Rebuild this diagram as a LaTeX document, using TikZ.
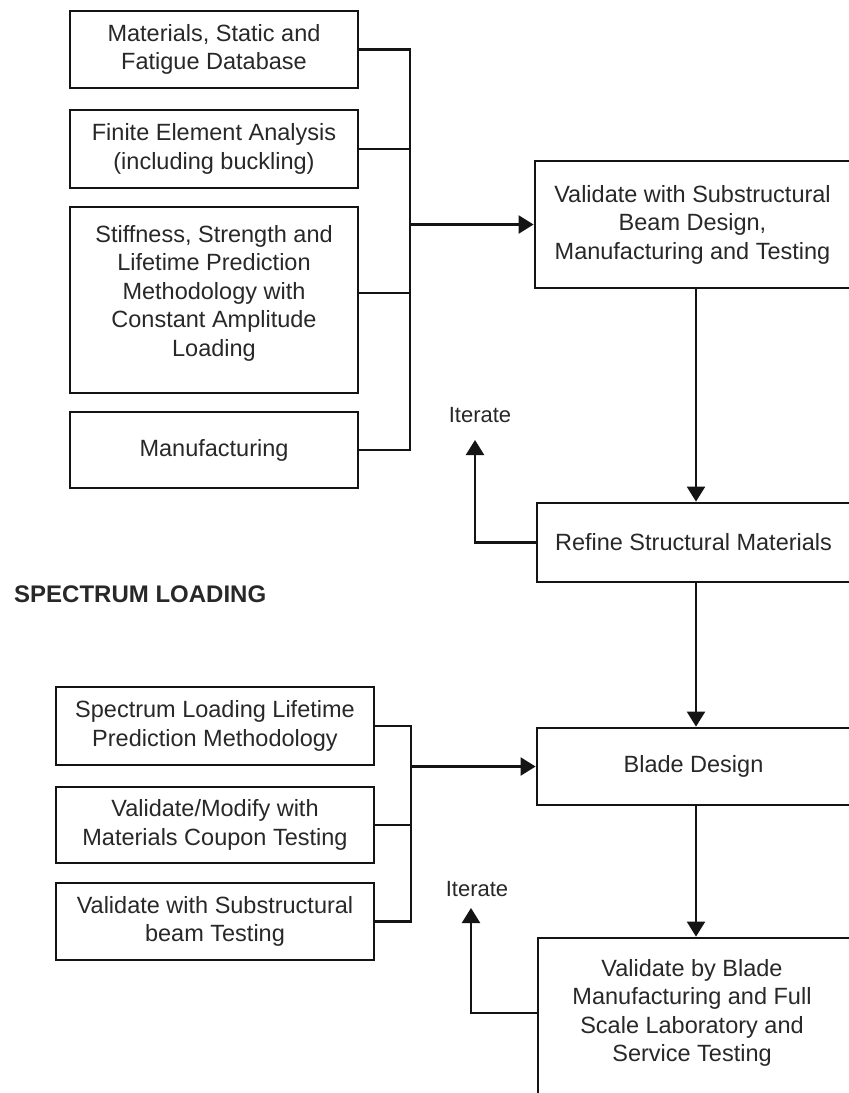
\documentclass[tikz,border=0pt]{standalone}
\usepackage{fontspec}
\setmainfont{Liberation Sans}
\usetikzlibrary{arrows.meta}
\definecolor{ink}{RGB}{20,20,20}
\definecolor{txt}{RGB}{40,40,40}
\tikzset{
  box/.style={draw=ink, line width=2.8pt, rectangle, inner sep=0pt, align=center,
              text=txt, font=\fontsize{23.5}{28.5}\selectfont},
  lbl/.style={inner sep=0pt, align=center, text=txt, font=\fontsize{23.5}{28.5}\selectfont},
  conn/.style={draw=ink, line width=2.3pt},
  arr/.style={conn, -{Triangle[length=15pt,width=18pt]}},
}
\begin{document}
\begin{tikzpicture}[x=1pt,y=-1pt]
\clip (0,0) rectangle (849,1093);
\fill[white] (0,0) rectangle (849,1093);
% left upper boxes
\node[box, minimum width=288pt, minimum height=77pt] (b1) at (214,49.5) {Materials, Static and\\Fatigue Database};
\node[box, minimum width=288pt, minimum height=78pt] (b2) at (214,149) {Finite Element Analysis\\(including buckling)};
\node[box, minimum width=288pt, minimum height=186pt] (b3) at (214,300) {};
\node[lbl] (b3t) at (214,293) {Stiffness, Strength and\\Lifetime Prediction\\Methodology with\\Constant Amplitude\\Loading};
\node[box, minimum width=288pt, minimum height=76pt] (b4) at (214,450) {Manufacturing};
\coordinate (bx) at (410,0);
\coordinate (b3c) at (358,293);
% right column
\node[box, minimum width=315pt, minimum height=127pt] (r1) at (692.5,224.5) {Validate with Substructural\\Beam Design,\\Manufacturing and Testing};
\node[box, minimum width=313pt, minimum height=79pt] (r2) at (693.5,542.5) {Refine Structural Materials};
\node[box, minimum width=313pt, minimum height=77pt] (r3) at (693.5,766.5) {Blade Design};
\node[box, minimum width=312pt, minimum height=170pt] (r4) at (694,1023) {};
\node[lbl] (r4t) at (692,1013) {Validate by Blade\\Manufacturing and Full\\Scale Laboratory and\\Service Testing};
\coordinate (ax) at (696,0);
% iterate labels
\node[lbl, font=\fontsize{22}{26}\selectfont] (it1) at (480,415) {Iterate};
\coordinate (t1) at (475,440);
\node[lbl, font=\fontsize{22}{26}\selectfont] (it2) at (477,889) {Iterate};
\coordinate (t2) at (471,908);
% spectrum loading
\node[lbl, anchor=west, font=\fontsize{24}{28}\selectfont\bfseries] (sl) at (14,594) {SPECTRUM LOADING};
% lower left boxes
\node[box, minimum width=318pt, minimum height=78pt] (c1) at (215,726) {Spectrum Loading Lifetime\\Prediction Methodology};
\node[box, minimum width=318pt, minimum height=76pt] (c2) at (215,825) {Validate/Modify with\\Materials Coupon Testing};
\node[box, minimum width=318pt, minimum height=77pt] (c3) at (215,921.5) {Validate with Substructural\\beam Testing};
\coordinate (cx) at (411,0);
% upper connectors
\draw[conn] (b1.east) -- (b1.east -| bx) -- (b4.east -| bx) -- (b4.east);
\draw[conn] (b2.east) -- (b2.east -| bx);
\draw[conn] (b3c) -- (b3c -| bx);
\draw[arr] (r1.west -| bx) -- (r1.west);
% lower connectors
\draw[conn] (c1.east) -- (c1.east -| cx) -- (c3.east -| cx) -- (c3.east);
\draw[conn] (c2.east) -- (c2.east -| cx);
\draw[arr] (r3.west -| cx) -- (r3.west);
% vertical flow
\draw[arr] (r1.south -| ax) -- (r2.north -| ax);
\draw[arr] (r2.south -| ax) -- (r3.north -| ax);
\draw[arr] (r3.south -| ax) -- (r4.north -| ax);
% iterate loops
\draw[arr] (r2.west) -| (t1);
\draw[arr] ([yshift=10pt]r4.west) -| (t2);
\end{tikzpicture}
\end{document}
